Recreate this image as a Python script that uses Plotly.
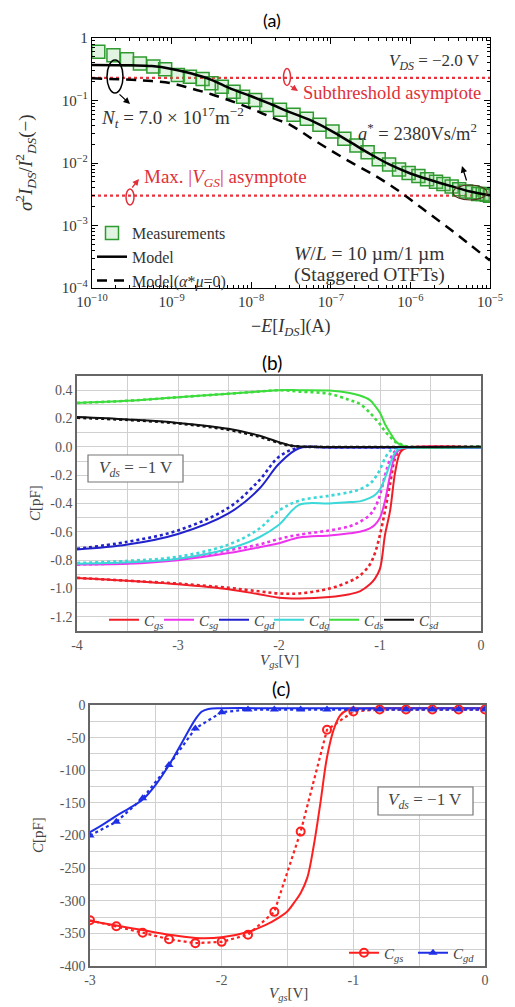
import plotly.graph_objects as go

W, H = 515, 1007
OFF = 8                       # page body margin of the html page
FW, FH = W - OFF, H - OFF
def px(x): return (x - OFF) / FW
def py(y): return 1 - (y - OFF) / FH

# ---------------- Panel (a) data ----------------
meas_I = [1.2e-10, 1.86e-10, 2.75e-10, 4.0e-10, 5.9e-10, 8.3e-10, 1.2e-9, 1.7e-9, 2.45e-9,
          3.16e-9, 4.27e-9, 6.0e-9, 7.9e-9, 1.12e-8, 1.55e-8, 2.3e-8, 3.4e-8, 5.0e-8, 7.2e-8,
          1.05e-7, 1.48e-7, 2.1e-7, 2.9e-7, 4.0e-7, 5.4e-7, 7.2e-7, 9.5e-7, 1.26e-6, 1.62e-6,
          2.1e-6, 2.6e-6, 3.3e-6, 4.1e-6, 5.0e-6, 6.0e-6, 7.1e-6, 8.1e-6, 9.1e-6, 1.0e-5]
meas_S = [0.60, 0.53, 0.456, 0.39, 0.35, 0.316, 0.256, 0.24, 0.22,
          0.188, 0.166, 0.138, 0.115, 0.102, 0.085, 0.071, 0.059, 0.051, 0.041,
          0.032, 0.0245, 0.019, 0.0148, 0.0115, 0.0095, 0.0079, 0.0069, 0.0062, 0.0055,
          0.0050, 0.0046, 0.0042, 0.0038, 0.0035, 0.0034, 0.0032, 0.0032, 0.0031, 0.0030]

model_I = [1e-10, 3.16e-10, 5.62e-10, 1e-9, 1.78e-9, 3.16e-9, 5.62e-9, 1e-8, 1.78e-8, 3.16e-8,
           5.62e-8, 1e-7, 1.78e-7, 3.16e-7, 5.62e-7, 1e-6, 1.78e-6, 3.16e-6, 5.62e-6, 1e-5]
model_S = [0.37, 0.365, 0.355, 0.32, 0.27, 0.214, 0.153, 0.117, 0.087, 0.064,
           0.048, 0.033, 0.0214, 0.0138, 0.0093, 0.0068, 0.00535, 0.0043, 0.0035, 0.00305]
model0_S = [0.226, 0.214, 0.205, 0.188, 0.155, 0.126, 0.098, 0.074, 0.054, 0.04,
            0.025, 0.0159, 0.0103, 0.0069, 0.0044, 0.0026, 0.0015, 0.00087, 0.00049, 0.000275]

asym_I = [1e-10, 1e-5]
asym_sub = [0.23, 0.23]
asym_max = [0.003, 0.003]

# ---------------- Panel (b) data ----------------
vb = [-4, -3.5, -3, -2.5, -2.2, -2.0, -1.8, -1.5, -1.3, -1.2, -1.1, -1.05, -1.0,
      -0.95, -0.9, -0.85, -0.8, -0.75, 0]
cgs_s = [-0.925, -0.945, -0.97, -1.005, -1.04, -1.065, -1.07, -1.06, -1.04, -1.02, -0.97,
         -0.93, -0.86, -0.62, -0.45, -0.18, -0.04, -0.01, -0.005]
cgs_d = [-0.925, -0.945, -0.965, -0.995, -1.02, -1.035, -1.035, -1.0, -0.95, -0.91, -0.83,
         -0.75, -0.62, -0.45, -0.26, -0.08, -0.02, -0.008, -0.005]
csg_s = [-0.83, -0.825, -0.80, -0.75, -0.71, -0.68, -0.64, -0.625, -0.61, -0.60, -0.575,
         -0.55, -0.5, -0.38, -0.2, -0.06, -0.015, -0.005, -0.005]
csg_d = [-0.83, -0.82, -0.79, -0.73, -0.69, -0.65, -0.62, -0.59, -0.56, -0.53, -0.48,
         -0.43, -0.34, -0.2, -0.09, -0.03, -0.01, -0.005, -0.005]
cgd_s = [-0.725, -0.69, -0.615, -0.47, -0.30, -0.12, -0.01, -0.005, -0.005, -0.005, -0.005,
         -0.005, -0.005, -0.005, -0.005, -0.005, -0.005, -0.005, -0.005]
cgd_d = [-0.72, -0.67, -0.59, -0.43, -0.24, -0.07, -0.005, -0.005, -0.005, -0.005, -0.005,
         -0.005, -0.005, -0.005, -0.005, -0.005, -0.005, -0.005, -0.005]
cdg_s = [-0.825, -0.815, -0.79, -0.72, -0.64, -0.55, -0.41, -0.40, -0.39, -0.385, -0.36,
         -0.34, -0.30, -0.22, -0.12, -0.04, -0.01, -0.005, -0.005]
cdg_d = [-0.82, -0.805, -0.775, -0.69, -0.58, -0.45, -0.38, -0.345, -0.32, -0.30, -0.26,
         -0.22, -0.16, -0.08, -0.03, -0.01, -0.005, -0.005, -0.005]
cds_s = [0.31, 0.325, 0.35, 0.375, 0.39, 0.40, 0.40, 0.397, 0.38, 0.362, 0.33, 0.29, 0.24,
         0.16, 0.10, 0.044, 0.015, 0.003, 0.0]
cds_d = [0.31, 0.325, 0.35, 0.375, 0.39, 0.40, 0.39, 0.374, 0.33, 0.303, 0.24, 0.20, 0.16,
         0.11, 0.07, 0.035, 0.02, 0.005, 0.0]
vb_sd = [-4, -3.5, -3, -2.5, -2.2, -2.0, -1.9, -1.8, -1.7, 0]
csd_s = [0.21, 0.193, 0.169, 0.127, 0.08, 0.033, 0.012, 0.003, 0.0, 0.0]
csd_d = [0.205, 0.19, 0.165, 0.12, 0.072, 0.028, 0.01, 0.002, 0.0, 0.0]

# ---------------- Panel (c) data ----------------
vc_meas = [-3, -2.8, -2.6, -2.4, -2.2, -2.0, -1.8, -1.6, -1.4, -1.2, -1.0, -0.8, -0.6, -0.4, -0.2, 0]
cgs_meas = [-330, -339, -349, -359, -365, -363, -352, -317, -194, -38, -10, -7, -7, -7, -7, -7]
cgd_meas = [-200, -179, -143, -92, -36, -11, -7, -7, -7, -7, -7, -7, -7, -7, -7, -7]
vc_gs = [-3, -2.8, -2.6, -2.4, -2.2, -2.0, -1.8, -1.7, -1.6, -1.5, -1.45, -1.4, -1.35, -1.3,
         -1.25, -1.2, -1.15, -1.1, -1.05, -1.0, -0.5, 0]
cgs_model = [-331, -338, -345, -352, -357, -356, -348, -340, -330, -316, -303, -288, -265, -215,
             -150, -80, -38, -16, -8, -6, -5, -5]
vc_gd = [-3, -2.9, -2.8, -2.7, -2.6, -2.5, -2.4, -2.3, -2.2, -2.15, -2.1, -2.0, -1.5, -1.0, -0.5, 0]
cgd_model = [-195, -183, -170, -158, -145, -122, -92, -57, -22, -10, -6, -5, -5, -5, -5, -5]

# ---------------- tick labels ----------------
a_xt = [1e-10, 1e-9, 1e-8, 1e-7, 1e-6, 1e-5]
a_xtt = ["10<sup>−10</sup>", "10<sup>−9</sup>", "10<sup>−8</sup>", "10<sup>−7</sup>", "10<sup>−6</sup>", "10<sup>−5</sup>"]
a_yt = [1e-4, 1e-3, 1e-2, 1e-1, 1]
a_ytt = ["10<sup>−4</sup>", "10<sup>−3</sup>", "10<sup>−2</sup>", "10<sup>−1</sup>", "1"]
a_minor_digits = [2, 3, 4, 5, 6, 7, 8, 9]
a_x_decades = [1e-10, 1e-9, 1e-8, 1e-7, 1e-6]
a_y_decades = [1e-4, 1e-3, 1e-2, 1e-1]

b_yt = [-1.3, -1.2, -1.1, -1.0, -0.9, -0.8, -0.7, -0.6, -0.5, -0.4, -0.3, -0.2, -0.1, 0.0, 0.1, 0.2, 0.3, 0.4, 0.5]
b_ytt = ["", "-1.2", "", "-1.0", "", "-0.8", "", "-0.6", "", "-0.4", "", "-0.2", "", "0.0", "", "0.2", "", "0.4", ""]
b_xt = [-4, -3.5, -3, -2.5, -2, -1.5, -1, -0.5, 0]
b_xtt = ["-4", "", "-3", "", "-2", "", "-1", "", "0"]
c_yt = [-400, -375, -350, -325, -300, -275, -250, -225, -200, -175, -150, -125, -100, -75, -50, -25, 0]
c_ytt = ["-400", "", "-350", "", "-300", "", "-250", "", "-200", "", "-150", "", "-100", "", "-50", "", "0"]
c_xt = [-3, -2.5, -2, -1.5, -1, -0.5, 0]
c_xtt = ["-3", "", "-2", "", "-1", "", "0"]

SERIF = "Liberation Serif"
fig = go.Figure()

# ---- (a) traces
fig.add_trace(go.Scatter(x=asym_I, y=asym_sub, mode="lines", line=dict(color="#e8323c", width=2.2, dash="dot"),
                         xaxis="x", yaxis="y", showlegend=False))
fig.add_trace(go.Scatter(x=asym_I, y=asym_max, mode="lines", line=dict(color="#e8323c", width=2.2, dash="dot"),
                         xaxis="x", yaxis="y", showlegend=False))
fig.add_trace(go.Scatter(x=meas_I, y=meas_S, mode="markers", name="Measurements",
                         marker=dict(symbol="square", size=13, color="rgba(120,200,120,0.22)",
                                     line=dict(color="#2f9a2f", width=1.5)),
                         xaxis="x", yaxis="y", legend="legend"))
fig.add_trace(go.Scatter(x=model_I, y=model_S, mode="lines", name="Model", line=dict(color="black", width=2.5, shape="spline"),
                         xaxis="x", yaxis="y", legend="legend"))
fig.add_trace(go.Scatter(x=model_I, y=model0_S, mode="lines", name="Model(<i>α</i>*<i>μ</i>=0)",
                         line=dict(color="black", width=2.5, dash="10px,7px", shape="spline"),
                         xaxis="x", yaxis="y", legend="legend"))

# ---- (b) traces
bcol = dict(gs="#f01e28", sg="#ee33ee", gd="#2222cc", dg="#3ad8d8", ds="#3ddc3d", sd="#111111")
bseries = [("gs", vb, cgs_s, cgs_d), ("sg", vb, csg_s, csg_d), ("gd", vb, cgd_s, cgd_d),
           ("dg", vb, cdg_s, cdg_d), ("ds", vb, cds_s, cds_d), ("sd", vb_sd, csd_s, csd_d)]
for key, xv, ys, yd in bseries:
    fig.add_trace(go.Scatter(x=xv, y=yd, mode="lines", line=dict(color=bcol[key], width=2.6, dash="dot", shape="spline"),
                             xaxis="x2", yaxis="y2", showlegend=False))
for key, xv, ys, yd in bseries:
    fig.add_trace(go.Scatter(x=xv, y=ys, mode="lines", name=f"<i>C<sub>{key}</sub></i>",
                             line=dict(color=bcol[key], width=2, shape="spline"),
                             xaxis="x2", yaxis="y2", legend="legend2"))
# empty spacer entry so the last legend label is not clipped
fig.add_trace(go.Scatter(x=[None], y=[None], mode="lines", name=" ", line=dict(color="rgba(0,0,0,0)", width=0),
                         xaxis="x2", yaxis="y2", legend="legend2", hoverinfo="skip"))

# ---- (c) traces
RC, BC = "#ff1f1f", "#1f2fe6"
fig.add_trace(go.Scatter(x=vc_gs, y=cgs_model, mode="lines", line=dict(color=RC, width=2, shape="spline"),
                         xaxis="x3", yaxis="y3", showlegend=False))
fig.add_trace(go.Scatter(x=vc_gd, y=cgd_model, mode="lines", line=dict(color=BC, width=2, shape="spline"),
                         xaxis="x3", yaxis="y3", showlegend=False))
fig.add_trace(go.Scatter(x=vc_meas, y=cgs_meas, mode="lines+markers", line=dict(color=RC, width=2.2, dash="dot"),
                         marker=dict(symbol="circle-open", size=8, line=dict(width=2, color=RC)),
                         xaxis="x3", yaxis="y3", showlegend=False))
fig.add_trace(go.Scatter(x=vc_meas, y=cgd_meas, mode="lines+markers", line=dict(color=BC, width=2.2, dash="dot"),
                         marker=dict(symbol="triangle-up", size=8, color=BC),
                         xaxis="x3", yaxis="y3", showlegend=False))
fig.add_trace(go.Scatter(x=[None], y=[None], mode="lines+markers", name="<i>C<sub>gs</sub></i>",
                         line=dict(color=RC, width=2), marker=dict(symbol="circle-open", size=8, line=dict(width=2, color=RC)),
                         xaxis="x3", yaxis="y3", legend="legend3"))
fig.add_trace(go.Scatter(x=[None], y=[None], mode="lines+markers", name="<i>C<sub>gd</sub></i>",
                         line=dict(color=BC, width=2), marker=dict(symbol="triangle-up", size=8, color=BC),
                         xaxis="x3", yaxis="y3", legend="legend3"))

# ---- axes
a_minor_x = [d * m for d in a_x_decades for m in a_minor_digits]
a_minor_y = [d * m for d in a_y_decades for m in a_minor_digits]
afont = dict(family=SERIF, size=15, color="#333")
gfont = dict(family=SERIF, size=14, color="#555")

def grid_axis(domain, anchor, rng, tv, tt):
    return dict(domain=domain, anchor=anchor, range=rng, tickmode="array", tickvals=tv, ticktext=tt,
                showgrid=True, gridcolor="#d0d0d0", gridwidth=1, showline=True, linecolor="#666",
                linewidth=1.5, mirror=True, zeroline=False, tickfont=gfont, automargin=False)

fig.update_layout(
    width=FW, height=FH, margin=dict(l=0, r=0, t=0, b=0, autoexpand=False),
    paper_bgcolor="white", plot_bgcolor="white",
    xaxis=dict(domain=[px(92), px(490)], anchor="y", type="log", range=[-10, -5],
               tickmode="array", tickvals=a_xt, ticktext=a_xtt, ticks="inside", ticklen=6, tickcolor="black",
               showline=True, linecolor="black", linewidth=1.3, mirror="allticks", showgrid=False,
               minor=dict(tickmode="array", tickvals=a_minor_x, ticks="inside", ticklen=3, tickcolor="black", showgrid=False),
               tickfont=afont, automargin=False),
    yaxis=dict(domain=[py(288), py(38)], anchor="x", type="log", range=[-4, 0],
               tickmode="array", tickvals=a_yt, ticktext=a_ytt, ticks="inside", ticklen=6, tickcolor="black",
               showline=True, linecolor="black", linewidth=1.3, mirror="allticks", showgrid=False,
               minor=dict(tickmode="array", tickvals=a_minor_y, ticks="inside", ticklen=3, tickcolor="black", showgrid=False),
               tickfont=afont, automargin=False),
    xaxis2=grid_axis([px(77), px(481)], "y2", [-4, 0], b_xt, b_xtt),
    yaxis2=grid_axis([py(631), py(376)], "x2", [-1.3, 0.5], b_yt, b_ytt),
    xaxis3=grid_axis([px(90), px(485)], "y3", [-3, 0], c_xt, c_xtt),
    yaxis3=grid_axis([py(966), py(705)], "x3", [-400, 0], c_yt, c_ytt),
    legend=dict(x=px(92), y=py(216), xanchor="left", yanchor="top", bgcolor="rgba(0,0,0,0)",
                font=dict(family=SERIF, size=16, color="#333"), tracegroupgap=0, itemwidth=30),
    legend2=dict(x=px(104), y=py(620), xanchor="left", yanchor="middle", orientation="h",
                 bgcolor="rgba(0,0,0,0)", font=dict(family=SERIF, size=15, color="#444"),
                 entrywidth=10, itemwidth=30),
    legend3=dict(x=px(482), y=py(953), xanchor="right", yanchor="middle", orientation="h",
                 bgcolor="rgba(0,0,0,0)", font=dict(family=SERIF, size=15, color="#444"),
                 entrywidth=24, itemwidth=30),
)

ann = []
def txt(x, y, t, size=15, color="#333", xanchor="center", family=SERIF, angle=0):
    ann.append(dict(x=px(x), y=py(y), xref="paper", yref="paper", text=t, showarrow=False,
                    xanchor=xanchor, yanchor="middle", textangle=angle,
                    font=dict(family=family, size=size, color=color)))
def arrow(x0, y0, x1, y1, color="black"):
    ann.append(dict(x=px(x1), y=py(y1), xref="paper", yref="paper", ax=x0 - x1, ay=y0 - y1,
                    text="", showarrow=True, arrowhead=2, arrowsize=1, arrowwidth=1.3, arrowcolor=color))

# titles
txt(272, 20, "(a)", size=18, color="black", family="Lato")
txt(272, 362, "(b)", size=19, color="black", family="Lato")
txt(281, 688, "(c)", size=19, color="black", family="Lato")
# panel a labels
txt(482, 62, "<i>V<sub>DS</sub></i> = −2.0 V", size=17, xanchor="right")
txt(301, 93, "Subthreshold asymptote", size=18.5, color="#e0303a", xanchor="left")
txt(99, 118, "<i>N<sub>t</sub></i> = 7.0 × 10<sup>17</sup>m<sup>−2</sup>", size=19, xanchor="left")
txt(356, 132, "<i>a</i><sup>*</sup> = 2380Vs/m<sup>2</sup>", size=18.5, xanchor="left")
txt(142, 178, "Max. |<i>V<sub>GS</sub></i>| asymptote", size=19, color="#e0303a", xanchor="left")
txt(292, 253, "<i>W</i>/<i>L</i> = 10 µm/1 µm", size=19.5, xanchor="left")
txt(292, 275, "(Staggered OTFTs)", size=19.5, xanchor="left")
txt(26, 163, "<i>σ</i><sup>2</sup><i>I<sub>DS</sub></i>/<i>I</i><sup>2</sup><sub><i>DS</i></sub>(−)", size=19, angle=-90)
txt(291, 327, "−<i>E</i>[<i>I<sub>DS</sub></i>](A)", size=18)
# panel b labels
txt(35, 503, "<i>C</i>[pF]", size=15, color="#444", angle=-90)
txt(279, 661, "<i>V<sub>gs</sub></i>[V]", size=15, color="#444")
# panel c labels
txt(38, 835, "<i>C</i>[pF]", size=15, color="#444", angle=-90)
txt(288, 994, "<i>V<sub>gs</sub></i>[V]", size=15, color="#444")

# arrows for panel a
arrow(118, 93, 130, 104)
arrow(289, 85, 298, 91, color="#e0303a")
arrow(131, 189, 139, 179, color="#e0303a")
arrow(467, 182, 462, 166)

shapes = [
    dict(type="circle", xref="paper", yref="paper", x0=px(107), x1=px(123), y0=py(93), y1=py(60),
         line=dict(color="black", width=1.5)),
    dict(type="circle", xref="paper", yref="paper", x0=px(283.5), x1=px(290.5), y0=py(85.5), y1=py(68.5),
         line=dict(color="#e0303a", width=1.5)),
    dict(type="circle", xref="paper", yref="paper", x0=px(126), x1=px(134), y0=py(205), y1=py(189),
         line=dict(color="#e0303a", width=1.5)),
    dict(type="circle", xref="paper", yref="paper", x0=px(453), x1=px(487), y0=py(200), y1=py(185),
         line=dict(color="#553322", width=1.2)),
    dict(type="rect", xref="paper", yref="paper", x0=px(88), x1=px(183), y0=py(482), y1=py(455),
         line=dict(color="#777", width=1.2), fillcolor="white"),
    dict(type="rect", xref="paper", yref="paper", x0=px(378), x1=px(473), y0=py(815), y1=py(787),
         line=dict(color="#777", width=1.2), fillcolor="white"),
]
txt(136, 469, "<i>V<sub>ds</sub></i> = −1 V", size=17, color="#444")
txt(425, 801, "<i>V<sub>ds</sub></i> = −1 V", size=17, color="#444")

fig.update_layout(annotations=ann, shapes=shapes)
fig.write_html("out.html")
